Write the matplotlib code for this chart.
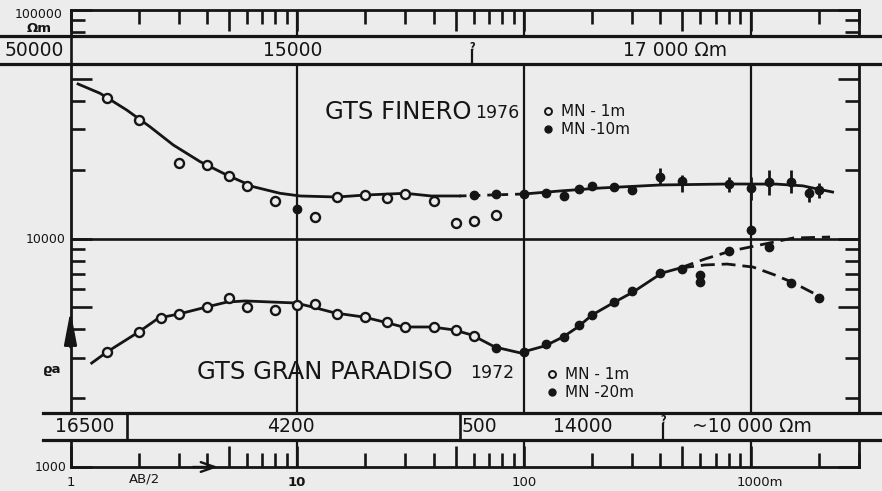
import matplotlib
matplotlib.use('Agg')
import matplotlib.pyplot as plt
from matplotlib.patches import Rectangle
from matplotlib.lines import Line2D
from matplotlib.ticker import LogLocator, NullFormatter
from matplotlib.transforms import blended_transform_factory

plt.rcParams['font.family'] = ['DejaVu Sans']

# ---------------- data (AB/2 in m, apparent resistivity in Ohm m) ----------------
# GTS Finero 1976
fin_curve_ab = [1.08, 1.35, 1.77, 2.24, 2.84, 3.73, 4.89, 6.4, 8.4, 10.3, 15, 20, 30, 39, 52]
fin_curve_rho = [47450, 43190, 36500, 30850, 25660, 21690, 18960, 16850, 15770, 15350,
                 15190, 15500, 15770, 15350, 15350]
fin_dash_ab = [52, 100]
fin_dash_rho = [15350, 15660]
fin_curve2_ab = [100, 144, 217, 400, 800, 1300, 1700, 1900, 2300]
fin_curve2_rho = [15660, 16140, 16630, 17150, 17320, 17300, 17000, 16600, 15970]

fin_open_ab = [1.45, 2, 3, 4, 5, 6, 8, 12, 15, 20, 25, 30, 40, 50, 60, 75]
fin_open_rho = [41200, 33000, 21400, 21000, 18800, 17000, 14600, 12400, 15200, 15500,
                15000, 15700, 14600, 11700, 11900, 12700]
fin_fill_ab = [10, 60, 75, 100, 125, 150, 175, 200, 250, 300]
fin_fill_rho = [13500, 15500, 15650, 15650, 15800, 15350, 16500, 17000, 16800, 16300]
fin_eb_ab = [400, 500, 800, 1000, 1200, 1500, 1800, 2000]
fin_eb_rho = [18600, 17800, 17300, 16600, 17700, 17700, 15800, 16300]
fin_eb_low = [17150, 15970, 15970, 14740, 15500, 15820, 14440, 15040]
fin_eb_high = [20350, 18960, 18580, 18580, 19940, 19940, 16800, 17500]

# GTS Gran Paradiso 1972
gp_curve_ab = [1.24, 1.45, 2.0, 2.45, 3.0, 4.0, 4.9, 5.9, 7.8, 9.9, 11.6, 14.7, 19.7, 24.2,
               29.3, 39.3, 49.2, 59, 74.5, 96, 124, 149, 173, 200, 247, 303, 406, 489]
gp_curve_rho = [2850, 3190, 3900, 4490, 4670, 5020, 5270, 5330, 5270, 5220, 5020, 4720, 4530,
                4310, 4100, 4100, 3980, 3780, 3350, 3160, 3390, 3710, 4100, 4630, 5220, 5830,
                7060, 7430]
gp_up_ab = [489, 630, 819, 1100, 1540, 2240]
gp_up_rho = [7430, 8140, 8820, 9370, 10050, 10150]
gp_low_ab = [489, 630, 787, 1025, 1280, 1550, 2080]
gp_low_rho = [7430, 7660, 7730, 7500, 6920, 6390, 5490]

gp_open_ab = [1.45, 2, 2.5, 3, 4, 5, 6, 8, 10, 12, 15, 20, 25, 30, 40, 50, 60]
gp_open_rho = [3190, 3900, 4490, 4670, 5020, 5490, 5020, 4870, 5120, 5170, 4670, 4530, 4310,
               4100, 4100, 3980, 3750]
gp_fill_ab = [75, 100, 125, 150, 175, 200, 250, 300, 400, 500, 600, 600, 800, 1000, 1200, 1500, 2000]
gp_fill_rho = [3320, 3190, 3450, 3710, 4180, 4630, 5270, 5890, 7060, 7350, 6920, 6450, 8820,
               10900, 9180, 6390, 5490]

# labels
fin_title, fin_year = 'GTS FINERO', '1976'
gp_title, gp_year = 'GTS GRAN PARADISO', '1972'
fin_legend = ['MN - 1m', 'MN -10m']
gp_legend = ['MN - 1m', 'MN -20m']
top_band_labels = ['50000', '15000', '17 000 Ωm']
bottom_band_labels = ['16500', '4200', '500', '14000', '~10 000 Ωm']
x_tick_values = [1, 10, 100]
x_tick_labels = ['1', '10', '100']
x_last_label = '1000m'
grid_ab = [10, 100, 1000]
grid_rho = [10000]

# ---------------- layout ----------------
W, H = 882, 491
BG = '#ececec'
INK = '#151515'

fig = plt.figure(figsize=(W / 100, H / 100), dpi=100, facecolor=BG)


def fx(px):
    return px / W


def fy(py):
    return 1 - py / H


ax = fig.add_axes([fx(70.5), fy(467), fx(858.8) - fx(70.5), fy(10) - fy(467)])
ax.set_facecolor(BG)
ax.set_xscale('log')
ax.set_yscale('log')
ax.set_xlim(1, 3000)
ax.set_ylim(1000, 100000)

for axis in (ax.xaxis, ax.yaxis):
    axis.set_major_locator(LogLocator(base=10, subs=(1.0, 5.0), numticks=20))
    axis.set_minor_locator(LogLocator(base=10, subs=(2, 3, 4, 6, 7, 8, 9), numticks=20))
    axis.set_major_formatter(NullFormatter())
    axis.set_minor_formatter(NullFormatter())
ax.tick_params(which='both', direction='in', top=True, right=True, width=1.9, color=INK)
ax.tick_params(which='major', length=15)
ax.tick_params(which='minor', length=10)
for s in ax.spines.values():
    s.set_linewidth(2.0)
    s.set_color(INK)

for g in grid_ab:
    ax.axvline(g, color=INK, lw=1.6, zorder=1)
for g in grid_rho:
    ax.axhline(g, color=INK, lw=1.9, zorder=1)

# ---- data marks ----
lw_c = 2.0
ax.plot(fin_curve_ab, fin_curve_rho, color=INK, lw=lw_c, zorder=2)
ax.plot(fin_dash_ab, fin_dash_rho, color=INK, lw=lw_c, ls=(0, (2.5, 2.5)), zorder=2)
ax.plot(fin_curve2_ab, fin_curve2_rho, color=INK, lw=lw_c, zorder=2)
ax.plot(fin_open_ab, fin_open_rho, ls='none', marker='o', ms=6.5, mfc=BG, mec=INK, mew=1.7, zorder=2.2)
ax.plot(fin_fill_ab, fin_fill_rho, ls='none', marker='o', ms=6, mfc=INK, mec=INK, zorder=2.2)
ax.errorbar(fin_eb_ab, fin_eb_rho,
            yerr=[[r - lo for r, lo in zip(fin_eb_rho, fin_eb_low)],
                  [hi - r for r, hi in zip(fin_eb_rho, fin_eb_high)]],
            fmt='o', ms=6, color=INK, elinewidth=2, capsize=0, zorder=2.2)

ax.plot(gp_curve_ab, gp_curve_rho, color=INK, lw=lw_c, zorder=2)
ax.plot(gp_up_ab, gp_up_rho, color=INK, lw=lw_c, ls=(0, (5, 2.5)), zorder=2)
ax.plot(gp_low_ab, gp_low_rho, color=INK, lw=lw_c, ls=(0, (5, 2.5)), zorder=2)
ax.plot(gp_open_ab, gp_open_rho, ls='none', marker='o', ms=6.5, mfc=BG, mec=INK, mew=1.7, zorder=2.2)
ax.plot(gp_fill_ab, gp_fill_rho, ls='none', marker='o', ms=6, mfc=INK, mec=INK, zorder=2.2)


# ---- bands with layer resistivities ----
def hline(x0, x1, y, lw=2.3):
    ax.add_line(Line2D([fx(x0), fx(x1)], [fy(y), fy(y)], transform=fig.transFigure,
                       color=INK, lw=lw, zorder=4, clip_on=False))


def vline(x, y0, y1, lw=1.9):
    ax.add_line(Line2D([fx(x), fx(x)], [fy(y0), fy(y1)], transform=fig.transFigure,
                       color=INK, lw=lw, zorder=4, clip_on=False))


def band(x0, x1, y0, y1):
    ax.add_patch(Rectangle((fx(x0), fy(y1)), fx(x1) - fx(x0), fy(y0) - fy(y1),
                           transform=fig.transFigure, facecolor=BG, edgecolor='none',
                           zorder=3, clip_on=False))
    hline(x0, x1, y0)
    hline(x0, x1, y1)


def T(px, py, s, size, ha='center', va='center', **kw):
    fig.text(fx(px), fy(py), s, fontsize=size, ha=ha, va=va, color=INK, zorder=6, **kw)


band(0, 882, 36, 64)
band(43, 882, 413, 440)

# top band
vline(70.5, 36, 64)
vline(472, 50, 64, lw=1.6)
T(472, 47, '?', 7, fontweight='bold')
T(64, 50.5, top_band_labels[0], 13.5, ha='right')
T(293, 50.5, top_band_labels[1], 13.5)
T(623, 50.5, top_band_labels[2], 13.5, ha='left')

# bottom band
vline(127, 413, 440)
vline(460, 413, 440)
vline(663, 424, 440, lw=1.6)
T(663, 420, '?', 7, fontweight='bold')
T(85, 427, bottom_band_labels[0], 13.5)
T(291, 427, bottom_band_labels[1], 13.5)
T(462, 427, bottom_band_labels[2], 13.5, ha='left')
T(583, 427, bottom_band_labels[3], 13.5)
T(692, 427, bottom_band_labels[4], 13.5, ha='left')

# ---- axis labels ----
T(63, 14, '100000', 9, ha='right')
T(39, 28, 'Ωm', 9.5, fontweight='bold')
T(66, 239.5, '10000', 9, ha='right')
T(67, 467.5, '1000', 9, ha='right')
T(52, 369, 'ϱa', 9.5, fontweight='bold')
T(145, 479.5, 'AB/2', 9.5)

btr = blended_transform_factory(ax.transData, fig.transFigure)
for v, lab in zip(x_tick_values, x_tick_labels):
    ax.text(v, fy(482), lab, transform=btr, fontsize=9.5, ha='center', va='center',
            color=INK, clip_on=False, fontweight='bold' if lab == '10' else 'normal')
T(737, 482, x_last_label, 9.5, ha='left')

# arrows on the axes
ax.annotate('', xy=(fx(70.5), fy(308)), xytext=(fx(70.5), fy(350)),
            xycoords='figure fraction', textcoords='figure fraction',
            arrowprops=dict(arrowstyle='-|>,head_width=0.38,head_length=2.0', color=INK, lw=1.9),
            zorder=5)
ax.annotate('', xy=(fx(221), fy(467)), xytext=(fx(190), fy(467)),
            xycoords='figure fraction', textcoords='figure fraction',
            arrowprops=dict(arrowstyle='->,head_width=0.35,head_length=1.0', color=INK, lw=1.7),
            zorder=5)

# ---- titles ----
T(325, 112, fin_title, 17.5, ha='left')
T(475, 113, fin_year, 12.5, ha='left')
T(197, 372, gp_title, 17.5, ha='left')
T(470, 373, gp_year, 12.5, ha='left')

# ---- legends ----
h_open = Line2D([], [], ls='none', marker='o', ms=5, mfc=BG, mec=INK, mew=1.4)
h_fill = Line2D([], [], ls='none', marker='o', ms=5, mfc=INK, mec=INK)
leg_kw = dict(loc='upper left', bbox_transform=fig.transFigure, frameon=False, fontsize=11,
              handlelength=0.7, handletextpad=0.5, labelspacing=0.2, borderpad=0,
              borderaxespad=0)
leg1 = ax.legend([h_open, h_fill], fin_legend, bbox_to_anchor=(fx(543), fy(104)), **leg_kw)
for t in leg1.get_texts():
    t.set_color(INK)
ax.add_artist(leg1)
leg2 = ax.legend([h_open, h_fill], gp_legend, bbox_to_anchor=(fx(547), fy(367)), **leg_kw)
for t in leg2.get_texts():
    t.set_color(INK)

fig.savefig('out.png', dpi=100, facecolor=BG)
